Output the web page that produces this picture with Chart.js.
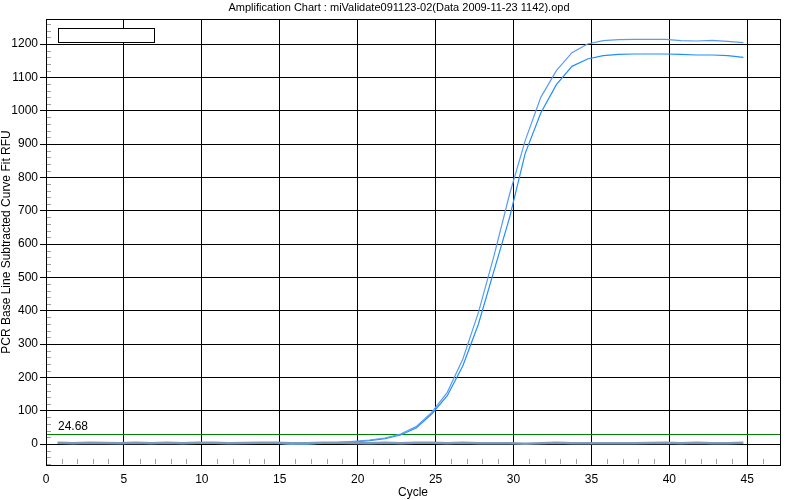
<!DOCTYPE html>
<html>
<head>
<meta charset="utf-8">
<script src="https://cdn.jsdelivr.net/npm/chart.js@4"></script>
<style>
  html, body { margin: 0; padding: 0; background: #fff; }
  #wrap { width: 800px; height: 500px; }
</style>
</head>
<body>
<div id="wrap"><canvas id="myChart" width="800" height="500"></canvas></div>
<script>
const title = 'Amplification Chart : miValidate091123-02(Data 2009-11-23 1142).opd'
const xTitle = 'Cycle'
const yTitle = 'PCR Base Line Subtracted Curve Fit RFU'

const cycles = [1, 2, 3, 4, 5, 6, 7, 8, 9, 10, 11, 12, 13, 14, 15, 16, 17, 18, 19, 20, 21, 22, 23,
    24, 25, 26, 27, 28, 29, 30, 31, 32, 33, 34, 35, 36, 37, 38, 39, 40, 41, 42, 43, 44, 45]
const wellA = [4, 3, 4, 4, 3, 4, 3, 4, 3, 4, 4, 3, 4, 4, 3, -1, 2, 4, 5, 8, 12, 18, 30,
    52, 95, 155, 255, 395, 565, 750, 910, 1040, 1120, 1174, 1200, 1210, 1213, 1214, 1214, 1214, 1210, 1209, 1211, 1208, 1204]
const wellB = [3, 2, 3, 3, 2, 3, 2, 3, 2, 3, 3, 2, 3, 3, 2, 0, -1, 3, 4, 6, 10, 16, 27,
    48, 90, 145, 235, 360, 520, 680, 872, 993, 1078, 1133, 1155, 1165, 1169, 1170, 1170, 1170, 1169, 1167, 1167, 1165, 1160]
const ntc = [4, 2, 4, 3, 2, 4, 2, 4, 2, 4, 4, 2, 3, 4, 4, 2, 2, 4, 4, 3, 2, 4, 2,
    4, 4, 2, 4, 2, 2, 2, 1, 2, 4, 2, 2, 2, 2, 2, 3, 4, 2, 4, 2, 2, 4]
const threshold = 30
const thresholdLabel = '24.68'
const xTicks = [0, 5, 10, 15, 20, 25, 30, 35, 40, 45]
const yTicks = [0, 100, 200, 300, 400, 500, 600, 700, 800, 900, 1000, 1100, 1200]

const xShift = -0.25   // instrument draws cycle n slightly left of its tick
const toPoints = vals => vals.map((v, i) => ({ x: cycles[i] + xShift, y: v }))

const font = '"Liberation Sans", Arial, sans-serif'

const decorations = {
    id: 'decorations',
    beforeDatasetsDraw(chart) {
        const { ctx, chartArea: a, scales } = chart
        const xs = scales.x, ys = scales.y
        ctx.save()
        // minor ticks
        ctx.strokeStyle = '#a0a0a0'
        ctx.lineWidth = 1
        ctx.beginPath()
        for (let v = -60; v <= 1260; v += 20) {
            if (v % 100 === 0) continue
            const y = Math.round(ys.getPixelForValue(v)) + 0.5
            ctx.moveTo(a.left, y); ctx.lineTo(a.left + 5, y)
        }
        for (let c = 1; c <= 46; c++) {
            if (c % 5 === 0) continue
            const x = Math.round(xs.getPixelForValue(c)) + 0.5
            ctx.moveTo(x, a.bottom - 6); ctx.lineTo(x, a.bottom - 1)
        }
        ctx.stroke()
        // threshold
        const ty = Math.round(ys.getPixelForValue(threshold)) + 0.5
        ctx.strokeStyle = '#008000'
        ctx.beginPath()
        ctx.moveTo(a.left, ty); ctx.lineTo(a.right, ty)
        ctx.stroke()
        ctx.fillStyle = '#000'
        ctx.font = '12px ' + font
        ctx.textBaseline = 'bottom'
        ctx.textAlign = 'left'
        ctx.fillText(thresholdLabel, a.left + 12, ty - 2)
        ctx.restore()
    },
    afterDraw(chart) {
        const { ctx, chartArea: a } = chart
        ctx.save()
        ctx.strokeStyle = '#000'
        ctx.lineWidth = 1
        ctx.strokeRect(a.left + 0.5, a.top + 0.5, a.right - a.left, a.bottom - a.top)
        // empty legend box
        ctx.fillStyle = '#fff'
        ctx.fillRect(58.5, 28.5, 96, 14)
        ctx.strokeRect(58.5, 28.5, 96, 14)
        // title
        ctx.fillStyle = '#000'
        ctx.font = '11px ' + font
        ctx.textAlign = 'center'
        ctx.textBaseline = 'middle'
        ctx.fillText(title, 399, 8)
        ctx.restore()
    }
}

const ctx = document.getElementById('myChart')
const chartData = {
    type: 'line',
    data: {
        datasets: [
            { label: 'NTC', data: toPoints(ntc), borderColor: '#7f9ab8', borderWidth: 2.5, pointRadius: 0 },
            { label: 'Well A', data: toPoints(wellA), borderColor: '#5b9bef', borderWidth: 1.2, pointRadius: 0 },
            { label: 'Well B', data: toPoints(wellB), borderColor: '#1e8fff', borderWidth: 1.2, pointRadius: 0 }
        ]
    },
    plugins: [decorations],
    options: {
        responsive: false,
        animation: false,
        layout: { padding: { top: 19, right: 20, left: 0, bottom: 0 } },
        plugins: { legend: { display: false }, tooltip: { enabled: false } },
        scales: {
            x: {
                type: 'linear',
                min: 0,
                max: 47.1,
                afterBuildTicks: s => { s.ticks = xTicks.map(v => ({ value: v })) },
                afterFit: s => { s.height = 35 },
                grid: { color: '#000', lineWidth: 1, drawTicks: false },
                border: { display: false },
                ticks: { color: '#000', font: { family: font, size: 12 }, padding: 7, maxRotation: 0,
                    callback: v => String(v) },
                title: { display: true, text: xTitle, color: '#000', font: { family: font, size: 12 }, padding: { top: 0, bottom: 0 } }
            },
            y: {
                type: 'linear',
                min: -63,
                max: 1275,
                afterBuildTicks: s => { s.ticks = yTicks.map(v => ({ value: v })) },
                afterFit: s => { s.width = 46 },
                grid: { color: '#000', lineWidth: 1, tickLength: 6 },
                border: { display: false },
                ticks: { color: '#000', font: { family: font, size: 12 }, padding: 2,
                    callback: v => String(v) },
                title: { display: true, text: yTitle, color: '#000', font: { family: font, size: 12 }, padding: { top: -1, bottom: 0 } }
            }
        }
    }
}
const myChart = new Chart(ctx, chartData)
</script>
</body>
</html>
